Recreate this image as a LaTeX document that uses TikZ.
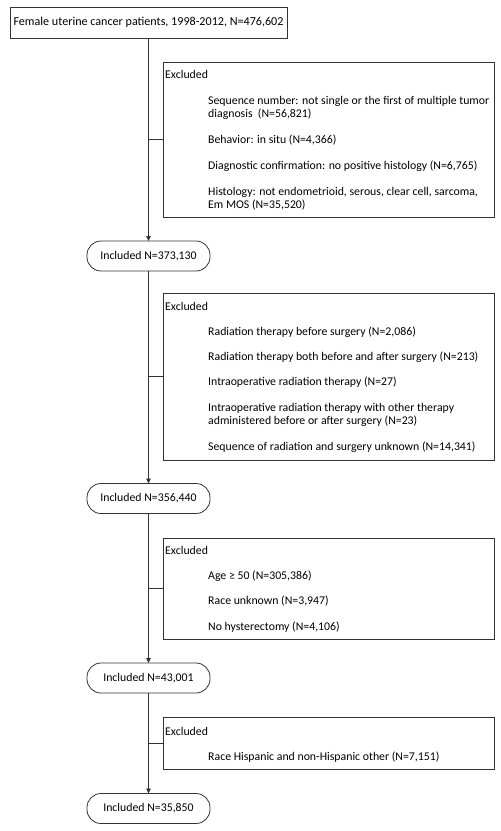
\documentclass[tikz,border=0pt]{standalone}
\usepackage{fontspec}
\setmainfont{Carlito}
\usetikzlibrary{arrows.meta}
\begin{document}
\begin{tikzpicture}[x=1pt,y=-1pt,
  every node/.style={font=\fontsize{11.8}{13}\selectfont, text=black},
  topbox/.style={draw=black!80, line width=0.8pt, minimum width=277pt, minimum height=31pt, inner sep=0pt, outer sep=0pt, font=\fontsize{12.1}{13}\selectfont},
  exbox/.style={draw=black!80, line width=0.8pt, inner sep=0pt, outer sep=0pt, minimum width=331pt},
  incbox/.style={draw=black!80, line width=0.8pt, rounded corners=14pt, minimum width=123pt, minimum height=30pt, inner sep=0pt, outer sep=0pt},
  txt/.style={anchor=west, inner sep=0pt, align=left},
  flow/.style={draw=black!80, line width=0.9pt},
  arr/.style={flow, -{Triangle[length=5pt,width=4.5pt]}}
]
\useasboundingbox (0,0) rectangle (501,831);

% top box
\node[topbox] (top) at (148.5,22.5) {Female uterine cancer patients, 1998-2012, N=476,602};

% Excluded box 1
\node[exbox, minimum height=155pt] (ex1) at (328.5,139.5) {};
\node[txt] (ex1h) at (165,74) {Excluded};
\node[txt] (ex1a) at (208,107.5) {Sequence number: not single or the first of multiple tumor\\diagnosis\ \ (N=56,821)};
\node[txt] (ex1b) at (208,140) {Behavior: in situ (N=4,366)};
\node[txt] (ex1c) at (208,166) {Diagnostic confirmation: no positive histology (N=6,765)};
\node[txt] (ex1d) at (208,198.5) {Histology: not endometrioid, serous, clear cell, sarcoma,\\Em MOS (N=35,520)};

% Included 1
\node[incbox] (in1) at (148.5,256) {Included N=373,130};

% Excluded box 2
\node[exbox, minimum height=167pt] (ex2) at (328.5,376.5) {};
\node[txt] (ex2h) at (165,306) {Excluded};
\node[txt] (ex2a) at (208,332) {Radiation therapy before surgery (N=2,086)};
\node[txt] (ex2b) at (208,357) {Radiation therapy both before and after surgery (N=213)};
\node[txt] (ex2c) at (208,382) {Intraoperative radiation therapy (N=27)};
\node[txt] (ex2d) at (208,414.5) {Intraoperative radiation therapy with other therapy\\administered before or after surgery (N=23)};
\node[txt] (ex2e) at (208,447) {Sequence of radiation and surgery unknown (N=14,341)};

% Included 2
\node[incbox] (in2) at (148.5,498.5) {Included N=356,440};

% Excluded box 3
\node[exbox, minimum height=101pt] (ex3) at (328.5,588.5) {};
\node[txt] (ex3h) at (165,550) {Excluded};
\node[txt] (ex3a) at (208,576) {Age ≥ 50 (N=305,386)};
\node[txt] (ex3b) at (208,601) {Race unknown (N=3,947)};
\node[txt] (ex3c) at (208,627) {No hysterectomy (N=4,106)};

% Included 3
\node[incbox] (in3) at (148.5,678) {Included N=43,001};

% Excluded box 4
\node[exbox, minimum height=52pt] (ex4) at (328.5,743) {};
\node[txt] (ex4h) at (165,731) {Excluded};
\node[txt] (ex4a) at (208,757) {Race Hispanic and non-Hispanic other (N=7,151)};

% Included 4
\node[incbox] (in4) at (148.5,808.5) {Included N=35,850};

% connectors
\draw[arr] (top.south) -- (in1.north);
\draw[flow] (ex1.west) -- (top.south |- ex1.west);
\draw[arr] (in1.south) -- (in2.north);
\draw[flow] (ex2.west) -- (in1.south |- ex2.west);
\draw[arr] (in2.south) -- (in3.north);
\draw[flow] (ex3.west) -- (in2.south |- ex3.west);
\draw[arr] (in3.south) -- (in4.north);
\draw[flow] (ex4.west) -- (in3.south |- ex4.west);
\end{tikzpicture}
\end{document}
